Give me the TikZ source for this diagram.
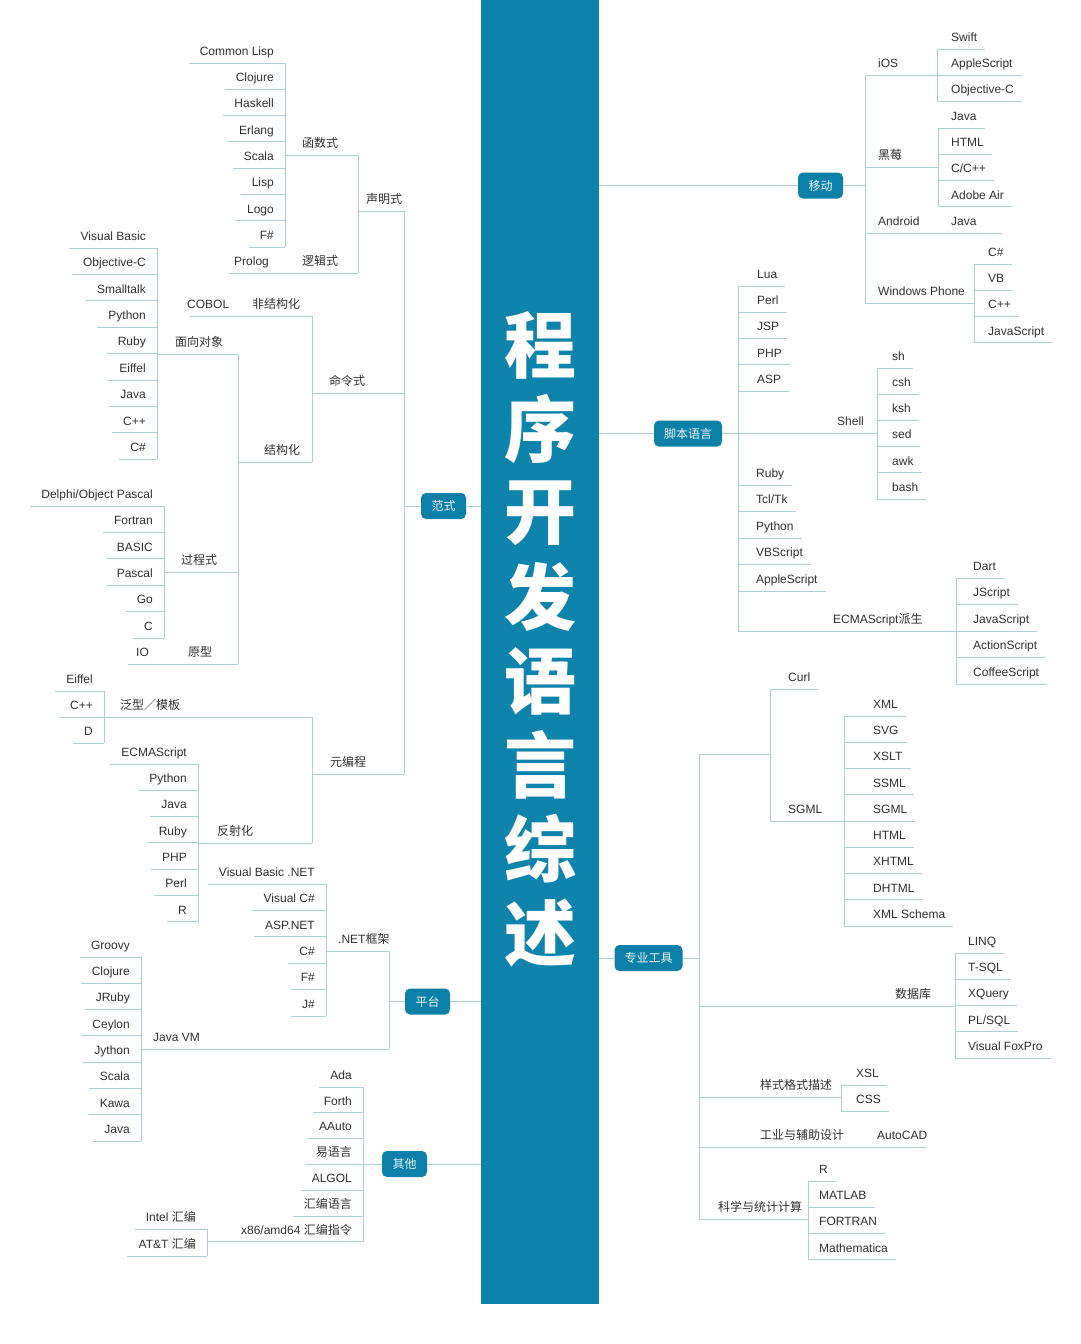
\documentclass[tikz,border=0pt]{standalone}
\usepackage{fontspec}
\setmainfont{Liberation Sans}
\newfontfamily\cjk{Noto Sans CJK SC}
\usetikzlibrary{positioning}
\definecolor{barblue}{HTML}{0E83AC}
\definecolor{boxblue}{HTML}{0C80A9}
\definecolor{linegray}{HTML}{ABCFD2}
\definecolor{inktext}{HTML}{303030}

\begin{document}
\begin{tikzpicture}[
  x=1pt, y=-1pt,
  font=\fontsize{12}{14}\selectfont, text=inktext,
  branch/.style={draw=linegray, line width=1pt},
  leafL/.style={anchor=south east, inner xsep=11pt, inner ysep=4.5pt,
    text height=9pt, text depth=3pt},
  leafR/.style={anchor=south west, inner xsep=8pt, inner ysep=4.5pt,
    text height=9pt, text depth=3pt, execute at begin node={\hspace*{#1}}},
  leafR/.default=6pt,
  tag/.style={anchor=south west, inner xsep=0pt, inner ysep=4.5pt,
    text height=9pt, text depth=3pt},
  topic/.style={fill=boxblue, rounded corners=5pt, text=white!92!boxblue,
    minimum width=45pt, minimum height=26pt, inner xsep=10pt,
    font={\cjk\fontsize{12}{14}\selectfont}},
  title/.style={text=white, inner sep=0pt,
    font={\cjk\bfseries\fontsize{72}{72}\selectfont}}
]
  \useasboundingbox (0,0) rectangle (1080,1344);
  \fill[white] (0,0) rectangle (1080,1344);

  % centre bar and title
  \node[fill=barblue, inner sep=0pt, minimum width=118pt, minimum height=1304pt,
    anchor=north west] (bar) at (481,0) {};
  \foreach \c [count=\i from 0] in {程,序,开,发,语,言,综,述}
    \node[title] (t\i) at (540,345+84*\i) {\c};

  % main topics
  \node[topic] (fanshi) at (443.5,506) {范式};
  \node[topic] (pingtai) at (427.5,1001.5) {平台};
  \node[topic] (qita) at (404.5,1164) {其他};
  \node[topic] (yidong) at (820.5,185.5) {移动};
  \node[topic] (jiaoben) at (688,433.5) {脚本语言};
  \node[topic] (zhuanye) at (648.5,958) {专业工具};

  % ---------- 范式 ----------
  \foreach \t [count=\i from 0] in {Common Lisp,Clojure,Haskell,Erlang,Scala,Lisp,Logo,F\#}{
    \node[leafL] (fn\i) at (285,63+26.3*\i) {\t};
    \draw[branch] (fn\i.south west) -- (fn\i.south east);
  }
  \draw[branch] (fn0.south east) -- (fn7.south east);
  \node[tag] (hanshu) at (302,155) {\cjk 函数式};
  \node[tag] (prolog) at (234,273) {Prolog};
  \node[tag] (luoji) at (302,273) {\cjk 逻辑式};
  \draw[branch] (285,155) -- (358,155);
  \draw[branch] ([xshift=-5pt]prolog.south west) -- (358,273);
  \draw[branch] (358,155) -- (358,273);
  \node[tag] (shengming) at (366,211) {\cjk 声明式};
  \draw[branch] (358,211) -- (404,211);

  \foreach \t [count=\i from 0] in {Visual Basic,Objective-C,Smalltalk,Python,Ruby,Eiffel,Java,C++,C\#}{
    \node[leafL] (oo\i) at (157,248+26.4*\i) {\t};
    \draw[branch] (oo\i.south west) -- (oo\i.south east);
  }
  \draw[branch] (oo0.south east) -- (oo8.south east);
  \node[tag] (mianxiang) at (175,354) {\cjk 面向对象};
  \draw[branch] (157,354) -- (238,354);

  \foreach \t [count=\i from 0] in {Delphi/Object Pascal,Fortran,BASIC,Pascal,Go,C}{
    \node[leafL] (pr\i) at (164,506+26.4*\i) {\t};
    \draw[branch] (pr\i.south west) -- (pr\i.south east);
  }
  \draw[branch] (pr0.south east) -- (pr5.south east);
  \node[tag] (guocheng) at (181,572) {\cjk 过程式};
  \draw[branch] (164,572) -- (238,572);
  \node[tag] (io) at (136,664) {IO};
  \node[tag] (yuanxing) at (188,664) {\cjk 原型};
  \draw[branch] ([xshift=-8pt]io.south west) -- (238,664);
  \draw[branch] (238,354) -- (238,664);

  \node[tag] (jiegou) at (264,462) {\cjk 结构化};
  \draw[branch] (238,462) -- (312,462);
  \node[tag] (cobol) at (187,316) {COBOL};
  \node[tag] (feijg) at (252,316) {\cjk 非结构化};
  \draw[branch] ([xshift=3pt]cobol.south west) -- (312,316);
  \draw[branch] (312,316) -- (312,462);
  \node[tag] (mingling) at (329,393) {\cjk 命令式};
  \draw[branch] (312,393) -- (404,393);

  \foreach \t [count=\i from 0] in {Eiffel,C++,D}{
    \node[leafL] (gn\i) at (104,691+26*\i) {\t};
    \draw[branch] (gn\i.south west) -- (gn\i.south east);
  }
  \draw[branch] (gn0.south east) -- (gn2.south east);
  \node[tag] (fanxing) at (120,717) {\cjk 泛型／模板};
  \draw[branch] (104,717) -- (312,717);

  \foreach \t [count=\i from 0] in {ECMAScript,Python,Java,Ruby,PHP,Perl,R}{
    \node[leafL] (rf\i) at (198,764+26.3*\i) {\t};
    \draw[branch] (rf\i.south west) -- (rf\i.south east);
  }
  \draw[branch] (rf0.south east) -- (rf6.south east);
  \node[tag] (fanshe) at (217,843) {\cjk 反射化};
  \draw[branch] (198,843) -- (312,843);
  \draw[branch] (312,717) -- (312,843);
  \node[tag] (yuanbc) at (330,774) {\cjk 元编程};
  \draw[branch] (312,774) -- (404,774);

  \draw[branch] (404,211) -- (404,774);
  \draw[branch] (404,506) -- (fanshi.west);
  \draw[branch] (fanshi.east) -- (fanshi.east -| bar.west);

  % ---------- 平台 ----------
  \foreach \t [count=\i from 0] in {Visual Basic .NET,Visual C\#,ASP.NET,C\#,F\#,J\#}{
    \node[leafL] (nt\i) at (326,884+26.4*\i) {\t};
    \draw[branch] (nt\i.south west) -- (nt\i.south east);
  }
  \draw[branch] (nt0.south east) -- (nt5.south east);
  \node[tag] (dotnet) at (338,951) {.NET{\cjk 框架}};
  \draw[branch] (326,951) -- (389,951);

  \foreach \t [count=\i from 0] in {Groovy,Clojure,JRuby,Ceylon,Jython,Scala,Kawa,Java}{
    \node[leafL] (jv\i) at (141,957+26.3*\i) {\t};
    \draw[branch] (jv\i.south west) -- (jv\i.south east);
  }
  \draw[branch] (jv0.south east) -- (jv7.south east);
  \node[tag] (jvm) at (153,1049) {Java VM};
  \draw[branch] (141,1049) -- (389,1049);

  \draw[branch] (389,951) -- (389,1049);
  \draw[branch] (389,1001.5) -- (pingtai.west);
  \draw[branch] (pingtai.east) -- (pingtai.east -| bar.west);

  % ---------- 其他 ----------
  \foreach \t [count=\i from 0] in {Ada,Forth,AAuto,{\cjk 易语言},ALGOL,{\cjk 汇编语言},x86/amd64 {\cjk 汇编指令}}{
    \node[leafL] (qt\i) at (363,1087+25.8*\i) {\t};
    \draw[branch] (qt\i.south west) -- (qt\i.south east);
  }
  \draw[branch] (qt0.south east) -- (qt6.south east);
  \foreach \t [count=\i from 0] in {Intel {\cjk 汇编},AT\&T {\cjk 汇编}}{
    \node[leafL] (as\i) at (207,1229+27*\i) {\t};
    \draw[branch] (as\i.south west) -- (as\i.south east);
  }
  \draw[branch] (as0.south east) -- (as1.south east);
  \draw[branch] (as0.south east |- qt6.south) -- (qt6.south west);
  \draw[branch] (363,1164) -- (qita.west);
  \draw[branch] (qita.east) -- (qita.east -| bar.west);

  % ---------- 移动 ----------
  \foreach \t [count=\i from 0] in {Swift,AppleScript,Objective-C}{
    \node[leafR] (ios\i) at (937,49+26*\i) {\t};
    \draw[branch] (ios\i.south west) -- (ios\i.south east);
  }
  \draw[branch] (ios0.south west) -- (ios2.south west);
  \node[tag] (ios) at (878,75) {iOS};
  \draw[branch] (865,75) -- (937,75);

  \foreach \t [count=\i from 0] in {Java,HTML,C/C++,Adobe Air}{
    \node[leafR=5pt] (bb\i) at (938,128+26.3*\i) {\t};
    \draw[branch] (bb\i.south west) -- (bb\i.south east);
  }
  \draw[branch] (bb0.south west) -- (bb3.south west);
  \node[tag] (heimei) at (878,167) {\cjk 黑莓};
  \draw[branch] (865,167) -- (938,167);

  \node[tag] (android) at (878,233) {Android};
  \node[tag] (adjava) at (951,233) {Java};
  \draw[branch] (865,233) -- (1002,233);

  \foreach \t [count=\i from 0] in {C\#,VB,C++,JavaScript}{
    \node[leafR] (wp\i) at (974,264+26.3*\i) {\t};
    \draw[branch] (wp\i.south west) -- (wp\i.south east);
  }
  \draw[branch] (wp0.south west) -- (wp3.south west);
  \node[tag] (winph) at (878,303) {Windows Phone};
  \draw[branch] (865,303) -- (974,303);

  \draw[branch] (865,75) -- (865,303);
  \draw[branch] (yidong.east) -- (865,185.5);
  \draw[branch] (yidong.west) -- (yidong.west -| bar.east);

  % ---------- 脚本语言 ----------
  \foreach \t [count=\i from 0] in {Lua,Perl,JSP,PHP,ASP}{
    \node[leafR=11pt] (sa\i) at (738,286+26.25*\i) {\t};
    \draw[branch] (sa\i.south west) -- (sa\i.south east);
  }
  \foreach \t [count=\i from 0] in {Ruby,Tcl/Tk,Python,VBScript,AppleScript}{
    \node[leafR=10pt] (sb\i) at (738,485+26.5*\i) {\t};
    \draw[branch] (sb\i.south west) -- (sb\i.south east);
  }
  \foreach \t [count=\i from 0] in {sh,csh,ksh,sed,awk,bash}{
    \node[leafR=7pt] (sh\i) at (877,368+26.2*\i) {\t};
    \draw[branch] (sh\i.south west) -- (sh\i.south east);
  }
  \draw[branch] (sh0.south west) -- (sh5.south west);
  \node[tag] (shell) at (837,433) {Shell};
  \draw[branch] (738,433) -- (877,433);

  \foreach \t [count=\i from 0] in {Dart,JScript,JavaScript,ActionScript,CoffeeScript}{
    \node[leafR=9pt] (ec\i) at (956,578+26.5*\i) {\t};
    \draw[branch] (ec\i.south west) -- (ec\i.south east);
  }
  \draw[branch] (ec0.south west) -- (ec4.south west);
  \node[tag] (ecma) at (833,631) {ECMAScript{\cjk 派生}};
  \draw[branch] (738,631) -- (956,631);

  \draw[branch] (sa0.south west) -- (738,631);
  \draw[branch] (jiaoben.east) -- (738,433.5);
  \draw[branch] (jiaoben.west) -- (jiaoben.west -| bar.east);

  % ---------- 专业工具 ----------
  \node[leafR=10pt] (curl) at (770,689) {Curl};
  \draw[branch] (curl.south west) -- (curl.south east);
  \foreach \t [count=\i from 0] in {XML,SVG,XSLT,SSML,SGML,HTML,XHTML,DHTML,XML Schema}{
    \node[leafR=21pt] (ml\i) at (844,716+26.25*\i) {\t};
    \draw[branch] (ml\i.south west) -- (ml\i.south east);
  }
  \draw[branch] (ml0.south west) -- (ml8.south west);
  \node[tag] (sgml) at (788,821) {SGML};
  \draw[branch] (770,821) -- (844,821);
  \draw[branch] (curl.south west) -- (770,821);
  \draw[branch] (699,754) -- (770,754);

  \foreach \t [count=\i from 0] in {LINQ,T-SQL,XQuery,PL/SQL,Visual FoxPro}{
    \node[leafR=5pt] (db\i) at (955,953+26.25*\i) {\t};
    \draw[branch] (db\i.south west) -- (db\i.south east);
  }
  \draw[branch] (db0.south west) -- (db4.south west);
  \node[tag] (shujuku) at (895,1006) {\cjk 数据库};
  \draw[branch] (699,1006) -- (955,1006);

  \foreach \t [count=\i from 0] in {XSL,CSS}{
    \node[leafR=7pt] (cs\i) at (841,1085+26*\i) {\t};
    \draw[branch] (cs\i.south west) -- (cs\i.south east);
  }
  \draw[branch] (cs0.south west) -- (cs1.south west);
  \node[tag] (yangshi) at (760,1097) {\cjk 样式格式描述};
  \draw[branch] (699,1097) -- (841,1097);

  \node[tag] (gongye) at (760,1147) {\cjk 工业与辅助设计};
  \node[tag] (autocad) at (877,1147) {AutoCAD};
  \draw[branch] (699,1147) -- (autocad.south east);

  \foreach \t [count=\i from 0] in {R,MATLAB,FORTRAN,Mathematica}{
    \node[leafR=3pt] (sci\i) at (808,1181+26.3*\i) {\t};
    \draw[branch] (sci\i.south west) -- (sci\i.south east);
  }
  \draw[branch] (sci0.south west) -- (sci3.south west);
  \node[tag] (kexue) at (718,1219) {\cjk 科学与统计计算};
  \draw[branch] (699,1219) -- (808,1219);

  \draw[branch] (699,754) -- (699,1219);
  \draw[branch] (zhuanye.east) -- (699,958);
  \draw[branch] (zhuanye.west) -- (zhuanye.west -| bar.east);
\end{tikzpicture}
\end{document}
